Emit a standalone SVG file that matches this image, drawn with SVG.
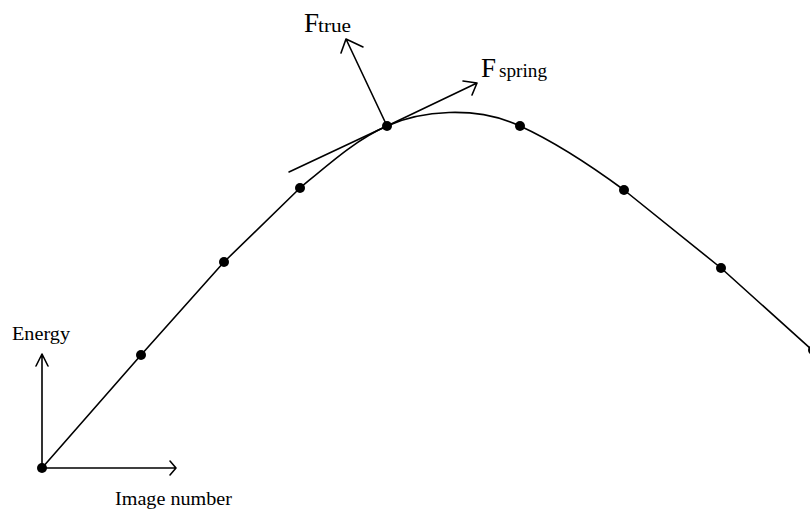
<svg xmlns="http://www.w3.org/2000/svg" width="810" height="511" viewBox="0 0 810 511">
<style>
.ln{fill:none;stroke:#000;stroke-width:1.6;stroke-linecap:round;stroke-linejoin:round}
.pt{fill:#000}
text{font-family:"Liberation Serif","Times New Roman",serif;fill:#000}
</style>
<rect width="810" height="511" fill="#fff"/>
<g id="connectors">
<path class="ln" d="M42,468 L141,355 L224,262 L300,188 C330,163 357,139 387,126 C420,111 475,105 520,126 C555,142 590,165 624,190 L721,268 L812,350"/>
<path class="ln" d="M289,172 L387,126"/>
<path class="ln" d="M387,126 L346,39 M341,53 L346,39 L363,47"/>
<path class="ln" d="M387,126 L477,83 M463,81 L477,83 L472,95"/>
<path class="ln" d="M42,468 L42,354 M36,366 L42,354 L48,366"/>
<path class="ln" d="M42,468 L176,468 M170,461 L176,468 L170,475"/>
</g>
<g id="points">
<circle class="pt" cx="42" cy="468" r="5"/>
<circle class="pt" cx="141" cy="355" r="5"/>
<circle class="pt" cx="224" cy="262" r="5"/>
<circle class="pt" cx="300" cy="188" r="5"/>
<circle class="pt" cx="387" cy="126" r="5"/>
<circle class="pt" cx="520" cy="126" r="5"/>
<circle class="pt" cx="624" cy="190" r="5"/>
<circle class="pt" cx="721" cy="268" r="5"/>
<circle class="pt" cx="813" cy="350" r="5"/>
</g>
<g id="labels">
<text x="304" y="32" font-size="27">F</text>
<text x="318" y="32" font-size="19" textLength="33" lengthAdjust="spacingAndGlyphs">true</text>
<text x="481" y="77" font-size="27">F</text>
<text x="499" y="77" font-size="19" textLength="48" lengthAdjust="spacingAndGlyphs">spring</text>
<text x="12" y="340" font-size="18" textLength="58" lengthAdjust="spacingAndGlyphs">Energy</text>
<text x="115" y="505" font-size="18" textLength="117" lengthAdjust="spacingAndGlyphs">Image number</text>
</g>
</svg>
